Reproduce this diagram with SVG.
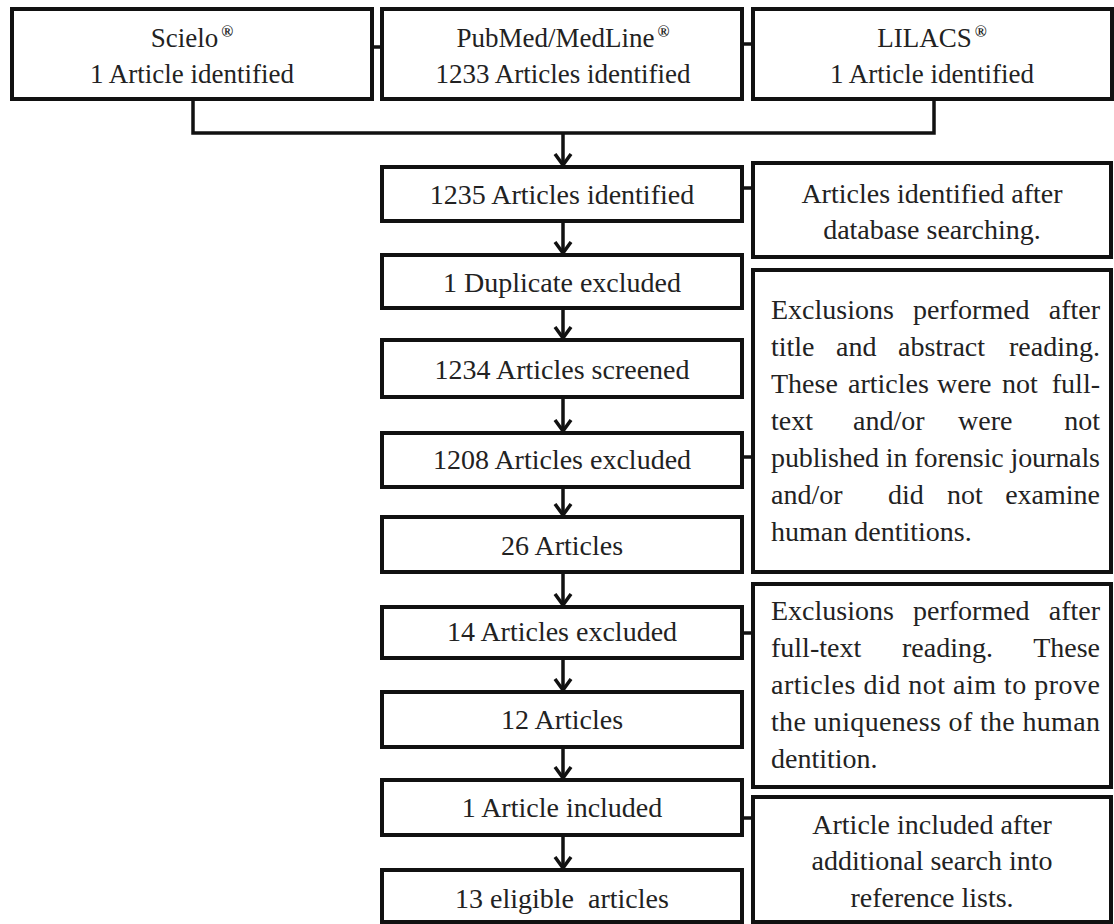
<svg xmlns="http://www.w3.org/2000/svg" width="1114" height="924" viewBox="0 0 1114 924" font-family="'Liberation Serif', 'DejaVu Serif', serif">
<defs>
<style>
.box{fill:#fff;stroke:#111;stroke-width:4}
.t{font-family:'Liberation Serif','DejaVu Serif',serif;font-size:28px;fill:#222;text-anchor:middle}
.top{font-size:27px}
.j{font-family:'Liberation Serif','DejaVu Serif',serif;font-size:28px;fill:#222}
.e{text-anchor:end}
.sup{font-size:16px;font-weight:bold}
.c{fill:none;stroke:#111;stroke-width:3.5}
</style>
<marker id="ah" markerWidth="14" markerHeight="20" refX="12" refY="10" orient="auto" markerUnits="userSpaceOnUse" viewBox="0 0 14 20">
<path d="M1,2 L12,10 L1,18" fill="none" stroke="#111" stroke-width="3.5"/>
</marker>
</defs>
<rect width="1114" height="924" fill="#fff"/>
<g id="connectors">
<line class="c" x1="372" y1="47" x2="382" y2="47"/>
<line class="c" x1="742" y1="44" x2="753" y2="44"/>
<polyline class="c" points="193,99 193,133 934,133 934,99"/>
<line class="c" x1="563" y1="133" x2="563" y2="165" marker-end="url(#ah)"/>
<line class="c" x1="563" y1="221" x2="563" y2="253" marker-end="url(#ah)"/>
<line class="c" x1="563" y1="308" x2="563" y2="338" marker-end="url(#ah)"/>
<line class="c" x1="563" y1="397" x2="563" y2="431" marker-end="url(#ah)"/>
<line class="c" x1="563" y1="487" x2="563" y2="515" marker-end="url(#ah)"/>
<line class="c" x1="563" y1="572" x2="563" y2="605" marker-end="url(#ah)"/>
<line class="c" x1="563" y1="658" x2="563" y2="690" marker-end="url(#ah)"/>
<line class="c" x1="563" y1="747" x2="563" y2="778" marker-end="url(#ah)"/>
<line class="c" x1="563" y1="835" x2="563" y2="868" marker-end="url(#ah)"/>
<line class="c" x1="742" y1="188" x2="753" y2="188"/>
<line class="c" x1="742" y1="457" x2="753" y2="457"/>
<line class="c" x1="742" y1="633" x2="753" y2="633"/>
<line class="c" x1="742" y1="818" x2="753" y2="818"/>
</g>
<g id="scielo">
<rect class="box" x="12" y="9" width="360" height="90"/>
<text class="t top" x="192" y="47">Scielo<tspan class="sup" dx="3" dy="-10">®</tspan></text>
<text class="t top" x="192" y="83">1 Article identified</text>
</g>
<g id="pubmed">
<rect class="box" x="382" y="9" width="360" height="90"/>
<text class="t top" x="563" y="47">PubMed/MedLine<tspan class="sup" dx="3" dy="-10">®</tspan></text>
<text class="t top" x="563" y="83">1233 Articles identified</text>
</g>
<g id="lilacs">
<rect class="box" x="753" y="9" width="359" height="90"/>
<text class="t top" x="932" y="47">LILACS<tspan class="sup" dx="3" dy="-10">®</tspan></text>
<text class="t top" x="932" y="83">1 Article identified</text>
</g>
<g id="n1235">
<rect class="box" x="382" y="167" width="360" height="54"/>
<text class="t" x="562" y="204">1235 Articles identified</text>
</g>
<g id="ndup">
<rect class="box" x="382" y="255" width="360" height="53"/>
<text class="t" x="562" y="292">1 Duplicate excluded</text>
</g>
<g id="nscreened">
<rect class="box" x="382" y="340" width="360" height="57"/>
<text class="t" x="562" y="379">1234 Articles screened</text>
</g>
<g id="n1208">
<rect class="box" x="382" y="433" width="360" height="54"/>
<text class="t" x="562" y="469">1208 Articles excluded</text>
</g>
<g id="n26">
<rect class="box" x="382" y="517" width="360" height="55"/>
<text class="t" x="562" y="555">26 Articles</text>
</g>
<g id="n14">
<rect class="box" x="382" y="607" width="360" height="51"/>
<text class="t" x="562" y="641">14 Articles excluded</text>
</g>
<g id="n12">
<rect class="box" x="382" y="692" width="360" height="55"/>
<text class="t" x="562" y="729">12 Articles</text>
</g>
<g id="nincluded">
<rect class="box" x="382" y="780" width="360" height="55"/>
<text class="t" x="562" y="817">1 Article included</text>
</g>
<g id="neligible">
<rect class="box" x="382" y="870" width="360" height="52"/>
<text class="t" x="562" y="908" xml:space="preserve">13 eligible  articles</text>
</g>
<g id="r-identified">
<rect class="box" x="753" y="163" width="358" height="94"/>
<text class="t" x="932" y="203">Articles identified after</text>
<text class="t" x="932" y="239">database searching.</text>
</g>
<g id="r-excl1">
<rect class="box" x="753" y="270" width="358" height="302"/>
<text class="j" y="319"><tspan x="771">Exclusions</tspan><tspan x="913">performed</tspan><tspan class="e" x="1100">after</tspan></text>
<text class="j" y="356"><tspan x="771">title</tspan><tspan x="836">and</tspan><tspan x="898">abstract</tspan><tspan class="e" x="1100">reading.</tspan></text>
<text class="j" y="393"><tspan x="771">These</tspan><tspan x="848">articles</tspan><tspan x="937">were</tspan><tspan x="1002">not</tspan><tspan class="e" x="1100">full-</tspan></text>
<text class="j" y="430"><tspan x="771">text</tspan><tspan x="853">and/or</tspan><tspan x="958">were</tspan><tspan class="e" x="1100">not</tspan></text>
<text class="j" x="771" y="467" textLength="329" lengthAdjust="spacing">published in forensic journals</text>
<text class="j" y="504"><tspan x="771">and/or</tspan><tspan x="888">did</tspan><tspan x="947">not</tspan><tspan class="e" x="1100">examine</tspan></text>
<text class="j" x="771" y="541">human dentitions.</text>
</g>
<g id="r-excl2">
<rect class="box" x="753" y="584" width="358" height="203"/>
<text class="j" y="620"><tspan x="771">Exclusions</tspan><tspan x="913">performed</tspan><tspan class="e" x="1100">after</tspan></text>
<text class="j" y="657"><tspan x="771">full-text</tspan><tspan x="902">reading.</tspan><tspan class="e" x="1100">These</tspan></text>
<text class="j" x="771" y="694" textLength="329" lengthAdjust="spacing">articles did not aim to prove</text>
<text class="j" x="771" y="731" textLength="329" lengthAdjust="spacing">the uniqueness of the human</text>
<text class="j" x="771" y="768">dentition.</text>
</g>
<g id="r-included">
<rect class="box" x="753" y="797" width="358" height="125"/>
<text class="t" x="932" y="834">Article included after</text>
<text class="t" x="932" y="870">additional search into</text>
<text class="t" x="932" y="907">reference lists.</text>
</g>
</svg>
